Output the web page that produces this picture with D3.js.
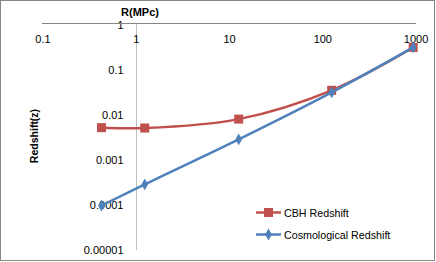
<!DOCTYPE html>
<html><head><meta charset="utf-8">
<script src="https://cdn.jsdelivr.net/npm/d3@7"></script>
<style>
html,body{margin:0;padding:0;background:#fff;}
text{font-family:"Liberation Sans",Arial,sans-serif;}
</style></head>
<body>
<script>
const radius = [0.43, 1.25, 12.7, 126, 942];
const cbhRedshift = [0.0051, 0.0050, 0.0079, 0.0345, 0.31];
const cosmoRedshift = [0.000095, 0.00028, 0.0028, 0.031, 0.31];
const xTickValues = [0.1, 1, 10, 100, 1000];
const xTickLabels = ["0.1", "1", "10", "100", "1000"];
const yTickValues = [1, 0.1, 0.01, 0.001, 0.0001, 0.00001];
const yTickLabels = ["1", "0.1", "0.01", "0.001", "0.0001", "0.00001"];
const seriesNames = ["CBH Redshift", "Cosmological Redshift"];

const W = 436, H = 262;
const svg = d3.select("body").append("svg").attr("width", W).attr("height", H);
svg.append("rect").attr("x",0.5).attr("y",0.5).attr("width",434).attr("height",260)
  .attr("fill","#fff").attr("stroke","#868686").attr("stroke-width",1);

const x = d3.scaleLog().domain([0.1, 1000]).range([42.4, 415.6]);
const y = d3.scaleLog().domain([1, 0.00001]).range([24.5, 249.5]);

// y axis (crosses at x=1)
const yAxis = d3.axisLeft(y).tickValues(yTickValues)
  .tickFormat((d,i)=>yTickLabels[i]).tickSize(0).tickPadding(13).tickSizeOuter(0);
const gy = svg.append("g").attr("transform", `translate(${Math.round(x(1))+0.5},0)`).call(yAxis);
gy.select(".domain").attr("stroke","#bfbfbf").attr("d", `M0,23.5V250`);
gy.selectAll("text").attr("font-size", 11).attr("fill","#000").attr("font-family","Liberation Sans, Arial, sans-serif");

// x axis (crosses at y=1, top)
const xAxis = d3.axisBottom(x).tickValues(xTickValues)
  .tickFormat((d,i)=>xTickLabels[i]).tickSize(0).tickPadding(11.5).tickSizeOuter(0);
const gx = svg.append("g").attr("transform", `translate(0,23.5)`).call(xAxis);
gx.select(".domain").attr("stroke","#868686").attr("d", `M42,0H416`);
gx.selectAll("text").attr("font-size", 11).attr("fill","#000").attr("font-family","Liberation Sans, Arial, sans-serif");

// titles
svg.append("text").attr("x", 140).attr("y", 16).attr("text-anchor","middle")
  .attr("font-size", 11).attr("font-weight","bold").text("R(MPc)");
svg.append("text").attr("transform","translate(37.5,136) rotate(-90)").attr("text-anchor","middle")
  .attr("font-size", 10.5).attr("font-weight","bold").text("Redshift(z)");

const red = "#c0504d", blue = "#4f81bd";
const line = d3.line().x(d=>x(d[0])).y(d=>y(d[1])).curve(d3.curveCatmullRom.alpha(0.5));

const redData = radius.map((r,i)=>[r, cbhRedshift[i]]);
const blueData = radius.map((r,i)=>[r, cosmoRedshift[i]]);

svg.append("path").datum(redData).attr("d", line).attr("fill","none").attr("stroke",red).attr("stroke-width",2.5);
svg.selectAll(".sq").data(redData).enter().append("rect")
  .attr("x", d=>x(d[0])-4.5).attr("y", d=>y(d[1])-4.5).attr("width",9).attr("height",9).attr("fill",red);

svg.append("path").datum(blueData).attr("d", line).attr("fill","none").attr("stroke",blue).attr("stroke-width",2.5);
const diamond = d3.symbol().type(d3.symbolDiamond).size(40);
svg.selectAll(".dm").data(blueData).enter().append("path")
  .attr("transform", d=>`translate(${x(d[0])},${y(d[1])})`).attr("d", diamond).attr("fill",blue);

// legend
const leg = svg.append("g");
const legY = [212.5, 234.5];
[red, blue].forEach((c,i)=>{
  leg.append("line").attr("x1",256).attr("x2",281).attr("y1",legY[i]).attr("y2",legY[i]).attr("stroke",c).attr("stroke-width",2.5);
  if(i===0) leg.append("rect").attr("x",264).attr("y",legY[i]-4.5).attr("width",9).attr("height",9).attr("fill",c);
  else leg.append("path").attr("transform",`translate(268.5,${legY[i]})`).attr("d",diamond).attr("fill",c);
  leg.append("text").attr("x",284).attr("y",legY[i]+4).attr("font-size",10.7).attr("fill","#000").text(seriesNames[i]);
});
</script>
</body></html>
